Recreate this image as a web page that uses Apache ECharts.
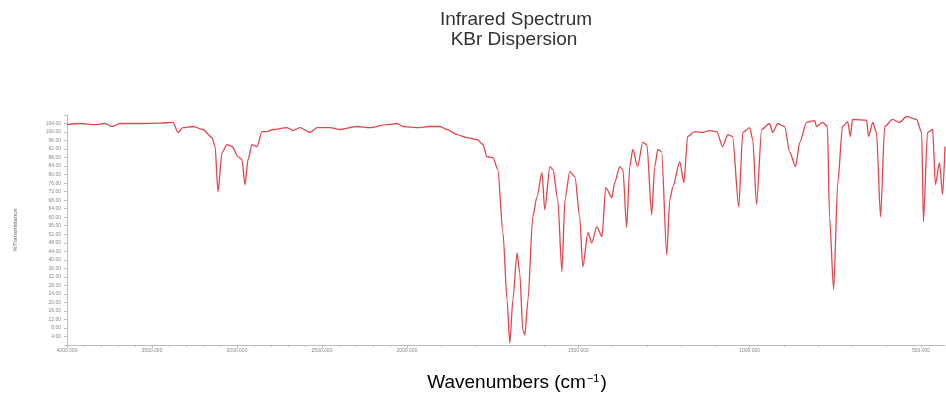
<!DOCTYPE html>
<html>
<head>
<meta charset="utf-8">
<script src="https://cdn.jsdelivr.net/npm/echarts@6/dist/echarts.min.js"></script>
<style>html,body{margin:0;padding:0;background:#fff}#c{width:946px;height:393px}</style>
</head>
<body>
<div id="c"></div>
<script>
// High wavenumber region (4000-2000 cm-1)
const wavenumbersHigh = [4000,3924,3835,3776,3735,3688,3571,3453,3376,3347,3318,3259,3200,3147,3129,3112,3088,3059,3029,2994,2971,2953,2935,2912,2882,2853,2824,2788,2706,2671,2629,2571,2529,2453,2394,2294,2218,2118,2059,2024,2000];
const transmHigh = [103.5,104.0,103.5,104.0,102.6,104.0,104.0,104.2,104.5,99.8,102.1,102.6,101.2,97.4,93.2,72.0,90.4,94.1,93.2,88.5,87.1,75.3,87.1,94.1,93.2,100.2,100.2,101.2,102.1,100.7,102.1,99.8,102.1,102.1,101.2,102.6,102.1,103.5,104.0,102.6,102.4];
// Low wavenumber region (2000-430 cm-1)
const wavenumbersLow = [2000,1971,1933,1904,1883,1854,1825,1796,1778,1767,1749,1735,1720,1708,1700,1691,1679,1671,1662,1656,1647,1633,1621,1606,1598,1583,1574,1560,1548,1539,1525,1510,1496,1487,1472,1461,1446,1431,1420,1402,1394,1379,1370,1359,1350,1341,1327,1312,1300,1286,1277,1268,1257,1242,1233,1224,1204,1192,1181,1160,1137,1117,1096,1079,1064,1050,1032,1020,1000,991,980,965,942,933,918,898,883,866,854,834,810,805,787,773,767,755,743,729,714,706,700,659,653,641,630,618,606,583,563,542,513,498,493,481,466,458,446,437,430];
const transmLow = [102.4,102.1,102.6,102.6,101.2,98.8,97.4,96.5,94.1,88.5,88.0,82.4,52.7,21.2,0.8,21.2,43.3,33.9,7.1,4.7,21.2,60.2,69.6,80.9,63.5,83.8,82.4,68.2,34.4,68.2,81.4,79.1,60.2,36.7,52.7,48.0,55.5,50.8,73.9,69.2,76.2,83.8,82.4,55.1,83.8,91.8,83.8,95.1,94.1,61.2,83.8,91.8,90.8,42.4,68.2,74.4,86.1,76.2,97.9,100.2,99.8,100.7,100.2,93.2,98.8,97.9,64.9,99.8,102.1,96.5,65.9,101.2,104.0,99.8,104.0,102.6,90.4,83.8,95.1,104.5,105.4,102.6,104.5,102.6,60.2,25.9,76.2,102.6,104.9,97.9,105.9,105.6,97.9,104.5,99.8,60.2,102.6,105.9,104.5,107.3,105.9,99.8,57.9,99.8,101.2,75.3,85.6,70.6,93.2];
const lowMajorTicks = [1500, 1000, 500];
const lowMinorTicks = [1900,1800,1700,1600,1400,1300,1200,1100,900,800,700,600];
const titleLines = ['Infrared Spectrum', 'KBr Dispersion'];
const yAxisTitle = '%Transmittance';

const chart = echarts.init(document.getElementById('c'));
const axisCol = '#bdbdbd';
const lineCol = '#e4464c';
const tinyLabel = {fontSize: 5, color: '#888', fontFamily: 'Liberation Sans'};
const yCommon = {type: 'value', min: 0, max: 108, interval: 4, splitLine: {show: false}};
const highData = wavenumbersHigh.map((w, i) => [w, transmHigh[i]]);
const lowData = wavenumbersLow.map((w, i) => [w, transmLow[i]]);

chart.setOption({
  animation: false,
  backgroundColor: '#fff',
  grid: [
    {left: 67, width: 340, top: 115, height: 230},
    {left: 407, right: 1, top: 115, height: 230}
  ],
  xAxis: [
    {gridIndex: 0, type: 'value', position: 'bottom', inverse: true, min: 2000, max: 4000, interval: 500,
     axisLine: {lineStyle: {color: axisCol}}, axisTick: {length: 3, lineStyle: {color: axisCol}},
     minorTick: {show: true, splitNumber: 5, length: 2, lineStyle: {color: axisCol}},
     splitLine: {show: false},
     axisLabel: Object.assign({margin: 3, formatter: v => v.toFixed(3)}, tinyLabel)},
    {gridIndex: 1, type: 'value', position: 'bottom', inverse: true, min: 430, max: 2000,
     axisLine: {lineStyle: {color: axisCol}},
     axisTick: {length: 3, customValues: lowMajorTicks, lineStyle: {color: axisCol}},
     splitLine: {show: false},
     axisLabel: Object.assign({margin: 3, customValues: lowMajorTicks, formatter: v => v.toFixed(3)}, tinyLabel)},
    {gridIndex: 1, type: 'value', position: 'bottom', offset: 0, inverse: true, min: 430, max: 2000,
     axisLine: {show: false},
     axisTick: {length: 2, customValues: lowMinorTicks, lineStyle: {color: axisCol}},
     splitLine: {show: false}, axisLabel: {show: false}}
  ],
  yAxis: [
    Object.assign({gridIndex: 0,
      name: yAxisTitle, nameLocation: 'middle', nameRotate: 90, nameGap: 49,
      nameTextStyle: {fontSize: 6, color: '#666', fontFamily: 'Liberation Sans'},
      axisLine: {show: true, lineStyle: {color: axisCol}},
      axisTick: {show: true, length: 3, lineStyle: {color: axisCol}},
      axisLabel: Object.assign({margin: 6, formatter: v => (v === 0 || v === 108) ? '' : v.toFixed(2)}, tinyLabel)
    }, yCommon),
    Object.assign({gridIndex: 1, show: false}, yCommon)
  ],
  series: [
    {type: 'line', xAxisIndex: 0, yAxisIndex: 0, data: highData, showSymbol: false, smooth: 0.25, smoothMonotone: 'x',
     lineStyle: {color: lineCol, width: 1.3}},
    {type: 'line', xAxisIndex: 1, yAxisIndex: 1, data: lowData, showSymbol: false, smooth: 0.25, smoothMonotone: 'x',
     lineStyle: {color: lineCol, width: 1.3}}
  ],
  graphic: [
    {type: 'text', x: 516, y: 20, style: {text: titleLines[0], textAlign: 'center', textVerticalAlign: 'middle',
      font: '19px "Liberation Sans", Arial, sans-serif', fill: '#333'}},
    {type: 'text', x: 514, y: 40, style: {text: titleLines[1], textAlign: 'center', textVerticalAlign: 'middle',
      font: '19px "Liberation Sans", Arial, sans-serif', fill: '#333'}},
    {type: 'text', x: 517, y: 383, style: {
      text: '{a|Wavenumbers (cm}{b|−1}{a|)}', textAlign: 'center', textVerticalAlign: 'middle',
      rich: {
        a: {fontSize: 19, fontFamily: 'Liberation Sans', color: '#222'},
        b: {fontSize: 11, fontFamily: 'Liberation Sans', color: '#222', verticalAlign: 'top', padding: [0,1,8,1]}
      }}}
  ]
});
</script>
</body>
</html>
